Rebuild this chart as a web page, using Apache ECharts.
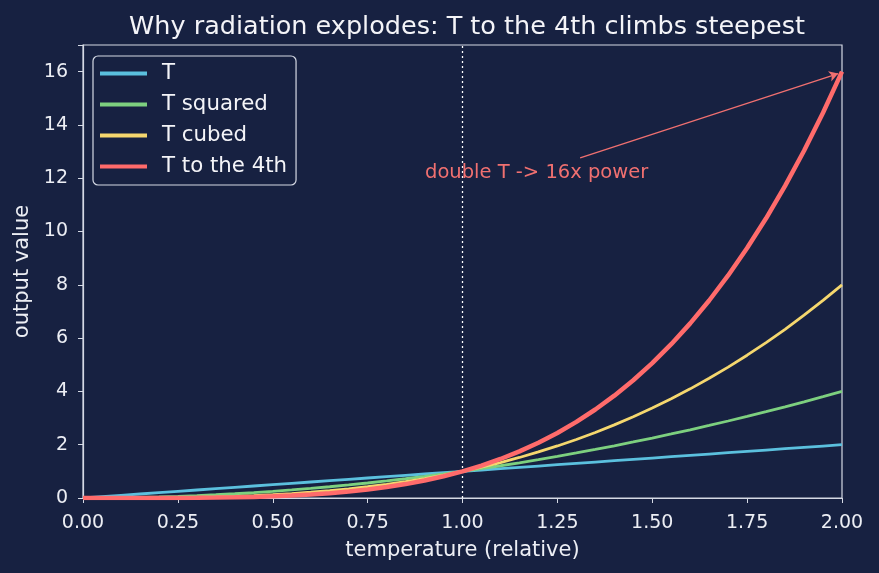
<!DOCTYPE html>
<html><head><meta charset="utf-8">
<script src="https://cdn.jsdelivr.net/npm/echarts@6/dist/echarts.min.js"></script>
<style>html,body{margin:0;padding:0;background:#172141;}#c{width:879px;height:573px;}</style>
</head><body><div id="c"></div>
<script>
const temps = [0,0.05,0.1,0.15,0.2,0.25,0.3,0.35,0.4,0.45,0.5,0.55,0.6,0.65,0.7,0.75,0.8,0.85,0.9,0.95,1.0,1.05,1.1,1.15,1.2,1.25,1.3,1.35,1.4,1.45,1.5,1.55,1.6,1.65,1.7,1.75,1.8,1.85,1.9,1.95,2.0];
const tLinear = [0,0.05,0.1,0.15,0.2,0.25,0.3,0.35,0.4,0.45,0.5,0.55,0.6,0.65,0.7,0.75,0.8,0.85,0.9,0.95,1.0,1.05,1.1,1.15,1.2,1.25,1.3,1.35,1.4,1.45,1.5,1.55,1.6,1.65,1.7,1.75,1.8,1.85,1.9,1.95,2.0];
const tSquared = [0,0.0025,0.01,0.0225,0.04,0.0625,0.09,0.1225,0.16,0.2025,0.25,0.3025,0.36,0.4225,0.49,0.5625,0.64,0.7225,0.81,0.9025,1,1.1025,1.21,1.3225,1.44,1.5625,1.69,1.8225,1.96,2.1025,2.25,2.4025,2.56,2.7225,2.89,3.0625,3.24,3.4225,3.61,3.8025,4];
const tCubed = [0,0,0.001,0.003,0.008,0.016,0.027,0.043,0.064,0.091,0.125,0.166,0.216,0.275,0.343,0.422,0.512,0.614,0.729,0.857,1,1.158,1.331,1.521,1.728,1.953,2.197,2.460,2.744,3.049,3.375,3.724,4.096,4.492,4.913,5.359,5.832,6.332,6.859,7.415,8];
const tFourth = [0,0,0.0001,0.0005,0.0016,0.0039,0.0081,0.015,0.0256,0.041,0.0625,0.0915,0.1296,0.1785,0.2401,0.3164,0.4096,0.522,0.6561,0.8145,1,1.2155,1.4641,1.749,2.0736,2.4414,2.8561,3.3215,3.8416,4.4205,5.0625,5.772,6.5536,7.412,8.3521,9.3789,10.4976,11.7135,13.0321,14.459,16];
const seriesNames = ['T','T squared','T cubed','T to the 4th'];
const refLineX = 1.0;
const annotText = 'double T -> 16x power';
const annotTextPos = [0.9, 12.2];
const arrowFrom = [1.31, 12.76];
const arrowTo = [1.99, 15.93];

const FONT = 'DejaVu Sans';
const fg = '#eceef4';
const axisCol = '#d5d9e4';
const colors = ['#5bc0de','#7dd07f','#f5d76e','#ff6b6b'];
const widths = [2.8,2.8,2.8,4.5];
const allData = [tLinear,tSquared,tCubed,tFourth];

const series = allData.map((d,i)=>({
  name: seriesNames[i], type:'line', showSymbol:false, symbol:'none',
  data: temps.map((t,j)=>[t,d[j]]),
  lineStyle:{color:colors[i], width:widths[i]}, itemStyle:{color:colors[i]},
  z: 2+i
}));
series[0].markLine = {
  silent:true, symbol:['none','none'], label:{show:false},
  lineStyle:{color:'#ffffff', type:[2,3], width:1.3},
  data:[{xAxis:refLineX}]
};
series[3].markLine = {
  silent:true, symbol:['none','arrow'], symbolSize:[8,9], label:{show:false},
  lineStyle:{color:'#f07070', type:'solid', width:1.3},
  data:[[{coord:arrowFrom},{coord:arrowTo}]]
};
series[3].markPoint = {
  silent:true, symbol:'circle', symbolSize:1, itemStyle:{color:'rgba(0,0,0,0)'},
  label:{show:true, formatter:annotText, position:'right', distance:0, color:'#f07070', fontFamily:FONT, fontSize:19.5},
  data:[{coord:annotTextPos}]
};

const chart = echarts.init(document.getElementById('c'));
chart.setOption({
  backgroundColor:'#172141',
  animation:false,
  title:{text:'Why radiation explodes: T to the 4th climbs steepest', left:462, textAlign:'center', top:9,
    textStyle:{color:'#f4f4f8', fontFamily:FONT, fontSize:25.5, fontWeight:'normal'}},
  grid:{left:83, right:37, top:45, bottom:75, show:true, borderColor:axisCol, borderWidth:1.2, backgroundColor:'transparent'},
  legend:{orient:'vertical', left:93, top:56, data:seriesNames, itemWidth:47, itemHeight:4, itemGap:10,
    textStyle:{color:'#f4f4f8', fontFamily:FONT, fontSize:21.3, padding:[0,0,0,10]},
    borderColor:axisCol, borderWidth:1.2, borderRadius:5, padding:[7,9,8,7], backgroundColor:'#172141',
    icon:'rect'},
  xAxis:{type:'value', min:0, max:2, interval:0.25,
    name:'temperature (relative)', nameLocation:'middle', nameGap:42,
    nameTextStyle:{color:fg, fontFamily:FONT, fontSize:21},
    axisLine:{show:true, lineStyle:{color:axisCol, width:1.2}},
    axisTick:{show:true, length:5, lineStyle:{color:axisCol}},
    splitLine:{show:false},
    axisLabel:{color:fg, fontFamily:FONT, fontSize:19, margin:16, formatter:v=>v.toFixed(2)}},
  yAxis:{type:'value', min:0, max:17, interval:2,
    name:'output value', nameLocation:'middle', nameGap:50,
    nameTextStyle:{color:fg, fontFamily:FONT, fontSize:21},
    axisLine:{show:true, lineStyle:{color:axisCol, width:1.2}},
    axisTick:{show:true, length:5, lineStyle:{color:axisCol}},
    splitLine:{show:false},
    axisLabel:{color:fg, fontFamily:FONT, fontSize:19, margin:15,
      formatter:v=> (v%2===0 && v<=16) ? String(v) : ''}},
  series: series
});
</script></body></html>
